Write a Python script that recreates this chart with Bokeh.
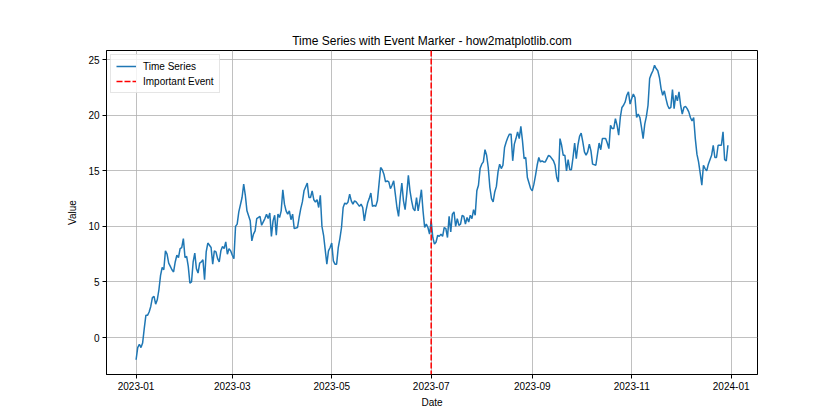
import pandas as pd
from bokeh.plotting import figure
from bokeh.models import (Span, Range1d, FixedTicker, Legend, LegendItem,
                          ColumnDataSource, DatetimeTickFormatter)
from bokeh.embed import file_html
from bokeh.resources import INLINE

# ---------------- data ----------------
start_date = "2023-01-01"
event_date = "2023-07-01"

day_offset = [*range(0, 64), *range(65, 69), *range(70, 75), *range(76, 98),
              *range(99, 104), *range(105, 116), *range(117, 255),
              *range(256, 281), *range(282, 287), *range(288, 364)]

value = [
    # Jan - Feb
    -2.0, -0.9, -0.6, -0.9, -0.5, 0.8, 2.0, 2.0, 2.3, 2.8, 3.6, 3.7, 3.0, 3.4,
    4.3, 5.6, 6.3, 6.1, 7.8, 7.5, 6.7, 6.4, 6.1, 5.9, 6.8, 7.4, 7.2, 8.0, 8.1,
    8.9, 7.2, 7.3, 6.4, 4.9, 5.0, 6.8, 7.6, 6.2, 5.8, 6.7, 6.8, 7.0, 5.2, 7.7,
    8.5, 8.3, 8.1, 6.6, 7.8, 7.7, 7.1, 6.8, 7.8, 8.2, 8.0, 8.6, 7.5, 8.0,
    # Mar - mid May
    7.8, 7.4, 7.1, 10.0, 10.2, 11.3,
    12.6, 13.8, 12.8, 11.4,
    10.5, 8.7, 9.3, 9.6, 10.7,
    10.9, 10.1, 10.4, 10.7, 11.1, 10.7, 11.2, 9.1, 10.5, 11.0, 9.2, 11.1, 10.8,
    11.4, 13.3, 12.0, 11.4, 11.1, 11.4, 10.6, 11.1, 9.8,
    9.9, 10.8, 11.6, 12.2, 13.2,
    13.9, 12.6, 12.6, 13.2, 12.4, 12.2, 12.4, 11.7, 12.8, 10.0, 9.2,
    6.6, 7.8, 8.1, 8.5, 6.9, 6.6, 6.6, 8.1, 8.9, 9.9, 11.7, 12.1, 12.0, 12.2, 12.9,
    # mid May - Jun
    12.3, 12.0, 12.3, 12.2, 12.0, 11.8, 12.0, 11.7, 10.5, 11.4, 12.1, 12.5,
    13.0, 11.8, 11.9, 11.8, 12.3, 13.8, 15.3, 15.1, 14.7, 14.0, 14.1, 14.0,
    13.4, 13.7, 14.1, 12.9, 11.7, 10.9, 12.6, 13.9, 12.3, 11.5, 12.9, 14.6,
    13.2, 12.3, 11.6, 11.4, 12.6, 11.4, 12.3, 13.3, 11.4, 9.9, 10.2,
    # Jul - Aug
    9.9, 9.3, 10.5, 9.0, 8.4, 8.6, 9.2, 9.1, 9.3, 9.1, 9.9, 9.8, 9.0, 10.9,
    9.5, 11.1, 11.3, 10.0, 10.7, 10.1, 10.2, 11.0, 10.9, 10.2, 10.8, 10.4,
    11.0, 10.7, 11.5, 11.0, 13.2, 13.7, 15.2, 15.6, 15.8, 16.9, 16.4, 15.3,
    13.5, 12.5, 12.2, 13.1, 13.6, 14.9, 15.6, 15.2, 15.5, 17.1, 17.6, 18.0,
    18.3, 18.3, 15.9, 17.4, 17.9, 18.5, 17.9, 19.0, 17.7,
    # Sep - Oct
    16.1, 16.2, 14.4, 13.9, 13.4, 13.2, 13.8, 14.6, 15.5, 16.2, 15.8, 15.9,
    15.8, 15.8, 16.1, 16.4, 16.3,
    15.9, 15.5, 14.4, 14.0, 17.9, 17.3, 16.4, 16.4, 15.0, 16.0, 15.1, 15.1,
    16.2, 17.5, 16.1, 17.3, 18.1, 18.4, 17.6, 16.7, 16.4, 16.7, 17.4, 16.8, 15.6,
    15.5, 16.5, 17.5, 16.9, 17.9,
    17.9, 17.5, 17.0, 19.1, 18.8, 18.8, 19.7, 19.1, 18.2, 19.8, 20.7, 20.9,
    # Nov - Dec
    21.2, 21.8, 22.1, 21.0, 21.5, 21.9, 21.6, 19.8, 20.1, 19.8, 18.9, 17.9,
    19.2, 19.9, 20.9, 23.3, 23.7, 24.0, 24.5, 24.2, 24.0, 23.4, 22.4, 21.8,
    22.2, 21.5, 20.9, 20.6, 20.7, 22.3, 20.6, 21.8, 21.3, 22.1, 20.9, 20.1,
    20.7, 20.8, 20.6, 20.3, 19.8, 19.5, 19.8, 17.9, 16.5, 15.8, 14.8, 13.7,
    15.5, 15.2, 15.0, 15.6, 16.0, 16.4, 17.3, 16.2, 16.2, 17.3, 17.3, 17.3,
    18.5, 16.0, 15.9, 17.3,
]

x_tick_labels = ["2023-01", "2023-03", "2023-05", "2023-07", "2023-09", "2023-11", "2024-01"]
y_ticks = [0, 5, 10, 15, 20, 25]

series_label = "Time Series"
event_label = "Important Event"
title_text = "Time Series with Event Marker - how2matplotlib.com"

assert len(day_offset) == len(value), (len(day_offset), len(value))

# ---------------- build ----------------
dates = pd.Timestamp(start_date) + pd.to_timedelta(day_offset, unit="D")
src = ColumnDataSource(dict(date=dates, value=value))

xmin, xmax = dates.min(), dates.max()
xpad = (xmax - xmin) * 0.05
ymin, ymax = min(value), max(value)
ypad = (ymax - ymin) * 0.05

FONT = "Liberation Sans"

p = figure(x_axis_type="datetime",
           frame_width=651, frame_height=324,
           min_border_left=106, min_border_right=60,
           min_border_top=50, min_border_bottom=38,
           x_range=Range1d((xmin - xpad).to_pydatetime(), (xmax + xpad).to_pydatetime()),
           y_range=Range1d(ymin - ypad, ymax + ypad),
           output_backend="svg", toolbar_location=None,
           title=title_text)

p.background_fill_color = "white"
p.border_fill_color = "white"
p.outline_line_color = "black"
p.outline_line_width = 1
p.outline_line_alpha = 1

p.title.text_font = FONT
p.title.text_font_size = "12px"
p.title.text_font_style = "normal"
p.title.text_color = "black"
p.title.align = "center"
p.title.standoff = 5

r_series = p.line("date", "value", source=src, line_color="#1f77b4", line_width=1.5)

ev_ms = pd.Timestamp(event_date).timestamp() * 1000
p.add_layout(Span(location=ev_ms, dimension="height", line_color="red",
                  line_dash="6 2", line_width=1.5))
# legend proxy for the event marker (NaN y: nothing drawn in the plot)
r_event = p.line(x=[ev_ms, ev_ms], y=[float("nan"), float("nan")],
                 line_color="red", line_dash="6 2", line_width=1.5)

xt = [pd.Timestamp(s + "-01").timestamp() * 1000 for s in x_tick_labels]
p.xaxis.ticker = FixedTicker(ticks=xt)
fmt = "%Y-%m"
p.xaxis.formatter = DatetimeTickFormatter(years=fmt, months=fmt, days=fmt, hours=fmt,
                                          minutes=fmt, seconds=fmt, milliseconds=fmt,
                                          microseconds=fmt, minsec=fmt, hourmin=fmt)
p.yaxis.ticker = FixedTicker(ticks=y_ticks)

for ax in (p.xaxis, p.yaxis):
    ax.axis_line_color = "black"
    ax.axis_line_width = 1
    ax.major_tick_line_color = "black"
    ax.major_tick_out = 4
    ax.major_tick_in = 0
    ax.minor_tick_line_color = None
    ax.major_label_text_font = FONT
    ax.major_label_text_font_size = "10px"
    ax.major_label_text_color = "black"
    ax.major_label_standoff = 3
    ax.axis_label_text_font = FONT
    ax.axis_label_text_font_size = "10px"
    ax.axis_label_text_font_style = "normal"
    ax.axis_label_text_color = "black"

p.xaxis.axis_label = "Date"
p.yaxis.axis_label = "Value"
p.xaxis.axis_label_standoff = 4
p.yaxis.axis_label_standoff = 7

for g in (p.xgrid, p.ygrid):
    g.grid_line_color = "#b0b0b0"
    g.grid_line_width = 0.8

legend = Legend(items=[LegendItem(label=series_label, renderers=[r_series]),
                       LegendItem(label=event_label, renderers=[r_event])],
                location="top_left")
legend.margin = 4
legend.padding = 5
legend.spacing = 3
legend.glyph_width = 20
legend.glyph_height = 12
legend.label_height = 12
legend.label_standoff = 7
legend.label_text_font = FONT
legend.label_text_font_size = "10px"
legend.label_text_color = "black"
legend.border_line_color = "#cccccc"
legend.border_line_width = 1
legend.background_fill_color = "white"
legend.background_fill_alpha = 0.8
p.add_layout(legend)

open("out.html", "w").write(file_html(p, INLINE))
